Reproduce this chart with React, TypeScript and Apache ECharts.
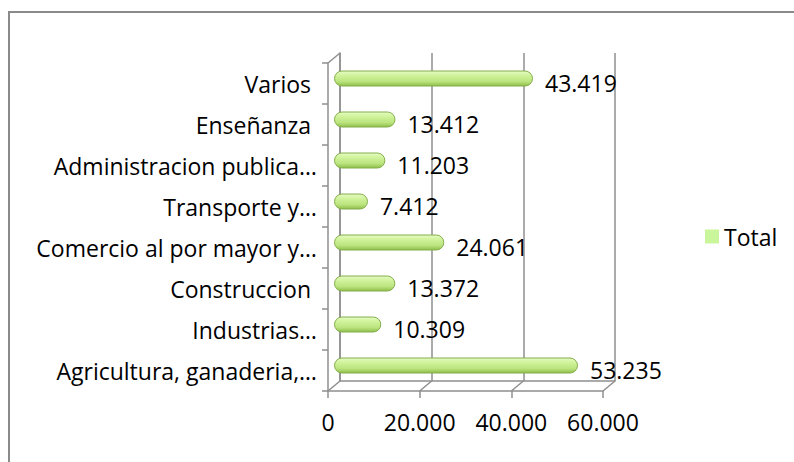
import React, { useEffect, useRef } from "react";
import * as echarts from "echarts";

const categories = [
  "Agricultura, ganaderia,…",
  "Industrias…",
  "Construccion ",
  "Comercio al por mayor y…",
  "Transporte y…",
  "Administracion publica…",
  "Enseñanza ",
  "Varios ",
];
const totals = [53235, 10309, 13372, 24061, 7412, 11203, 13412, 43419];
const tickValues = [0, 20000, 40000, 60000];
const seriesName = "Total";

const fmt = (v: number) => String(Math.round(v)).replace(/\B(?=(\d{3})+(?!\d))/g, ".");

const FONT = "Open Sans";
const FS = 23;
const GRAY = "#8f8f8f";
const DX = 12;
const DY = -10;

export default function App() {
  const ref = useRef<HTMLDivElement>(null);
  useEffect(() => {
    if (!ref.current) return;
    const chart = echarts.init(ref.current, undefined, { renderer: "svg" });
    const front = { left: 328, top: 63, width: 275, height: 328 };
    const valueAxisBase = { type: "value", min: 0, max: 60000, interval: 20000 };
    chart.setOption({
      animation: false,
      backgroundColor: "#ffffff",
      textStyle: { fontFamily: FONT },
      graphic: [
        {
          type: "rect",
          shape: { x: 9, y: 12, width: 900, height: 600 },
          style: { fill: "none", stroke: "#8a8a8a", lineWidth: 2 },
          silent: true,
        },
      ],
      legend: {
        left: 705,
        top: 225,
        padding: 0,
        itemWidth: 14,
        itemHeight: 14,
        itemGap: 8,
        icon: "rect",
        textStyle: { fontFamily: FONT, fontSize: FS, color: "#000" },
        data: [{ name: seriesName, itemStyle: { color: "#c9f59b", borderWidth: 0 } }],
      },
      grid: [
        { ...front },
        { left: front.left + DX, top: front.top + DY, width: front.width, height: front.height },
        { left: front.left + DX / 2, top: front.top + DY / 2, width: front.width, height: front.height },
      ],
      xAxis: [
        {
          ...valueAxisBase,
          gridIndex: 0,
          axisLine: { show: true, lineStyle: { color: GRAY, width: 1.5 } },
          axisTick: { show: true, length: 7, lineStyle: { color: GRAY, width: 1.5 } },
          axisLabel: {
            formatter: (v: number) => fmt(v),
            fontFamily: FONT,
            fontSize: FS,
            color: "#000",
            margin: 19,
          },
          splitLine: { show: false },
        },
        {
          ...valueAxisBase,
          gridIndex: 1,
          axisLine: { show: true, lineStyle: { color: GRAY, width: 1.5 } },
          axisTick: { show: false },
          axisLabel: { show: false },
          splitLine: { show: true, lineStyle: { color: GRAY, width: 1.5 } },
        },
        {
          ...valueAxisBase,
          gridIndex: 2,
          show: false,
        },
      ],
      yAxis: [
        {
          type: "category",
          gridIndex: 0,
          data: categories,
          axisLine: { show: true, lineStyle: { color: GRAY, width: 1.5 } },
          axisTick: { show: true, length: 6, lineStyle: { color: GRAY, width: 1.5 } },
          axisLabel: { fontFamily: FONT, fontSize: FS, color: "#000", margin: 11 },
        },
        {
          type: "category",
          gridIndex: 1,
          data: categories,
          axisLine: { show: true, lineStyle: { color: GRAY, width: 1.5 } },
          axisTick: { show: false },
          axisLabel: { show: false },
        },
        {
          type: "category",
          gridIndex: 2,
          data: categories,
          show: false,
        },
      ],
      series: [
        {
          type: "custom",
          xAxisIndex: 0,
          yAxisIndex: 0,
          silent: true,
          data: tickValues.map((v) => [v, 0]),
          renderItem: (params: any, api: any) => {
            const cs = params.coordSys;
            const x = api.coord([api.value(0), 0])[0];
            const yb = cs.y + cs.height;
            const style = { stroke: GRAY, lineWidth: 1.5 };
            const children: any[] = [
              { type: "line", shape: { x1: x, y1: yb, x2: x + DX, y2: yb + DY }, style },
            ];
            if (params.dataIndex === 0) {
              children.push({
                type: "line",
                shape: { x1: cs.x, y1: cs.y, x2: cs.x + DX, y2: cs.y + DY },
                style,
              });
            }
            return { type: "group", children };
          },
        },
        {
          name: seriesName,
          type: "bar",
          xAxisIndex: 2,
          yAxisIndex: 2,
          data: totals,
          barWidth: 16,
          itemStyle: {
            color: new echarts.graphic.LinearGradient(0, 0, 0, 1, [
              { offset: 0, color: "#e6fbc4" },
              { offset: 0.3, color: "#d0f39c" },
              { offset: 0.7, color: "#bbe47e" },
              { offset: 1, color: "#8fbf4a" },
            ]),
            borderColor: "#84ae4a",
            borderWidth: 1,
            borderRadius: 8,
          },
          label: {
            show: true,
            position: "right",
            distance: 12,
            offset: [0, 4],
            formatter: (p: any) => fmt(p.value),
            fontFamily: FONT,
            fontSize: FS,
            color: "#000",
          },
        },
      ],
    });
    return () => chart.dispose();
  }, []);
  return (
    <div
      ref={ref}
      style={{ position: "fixed", left: 0, top: 0, width: 794, height: 462 }}
    />
  );
}
